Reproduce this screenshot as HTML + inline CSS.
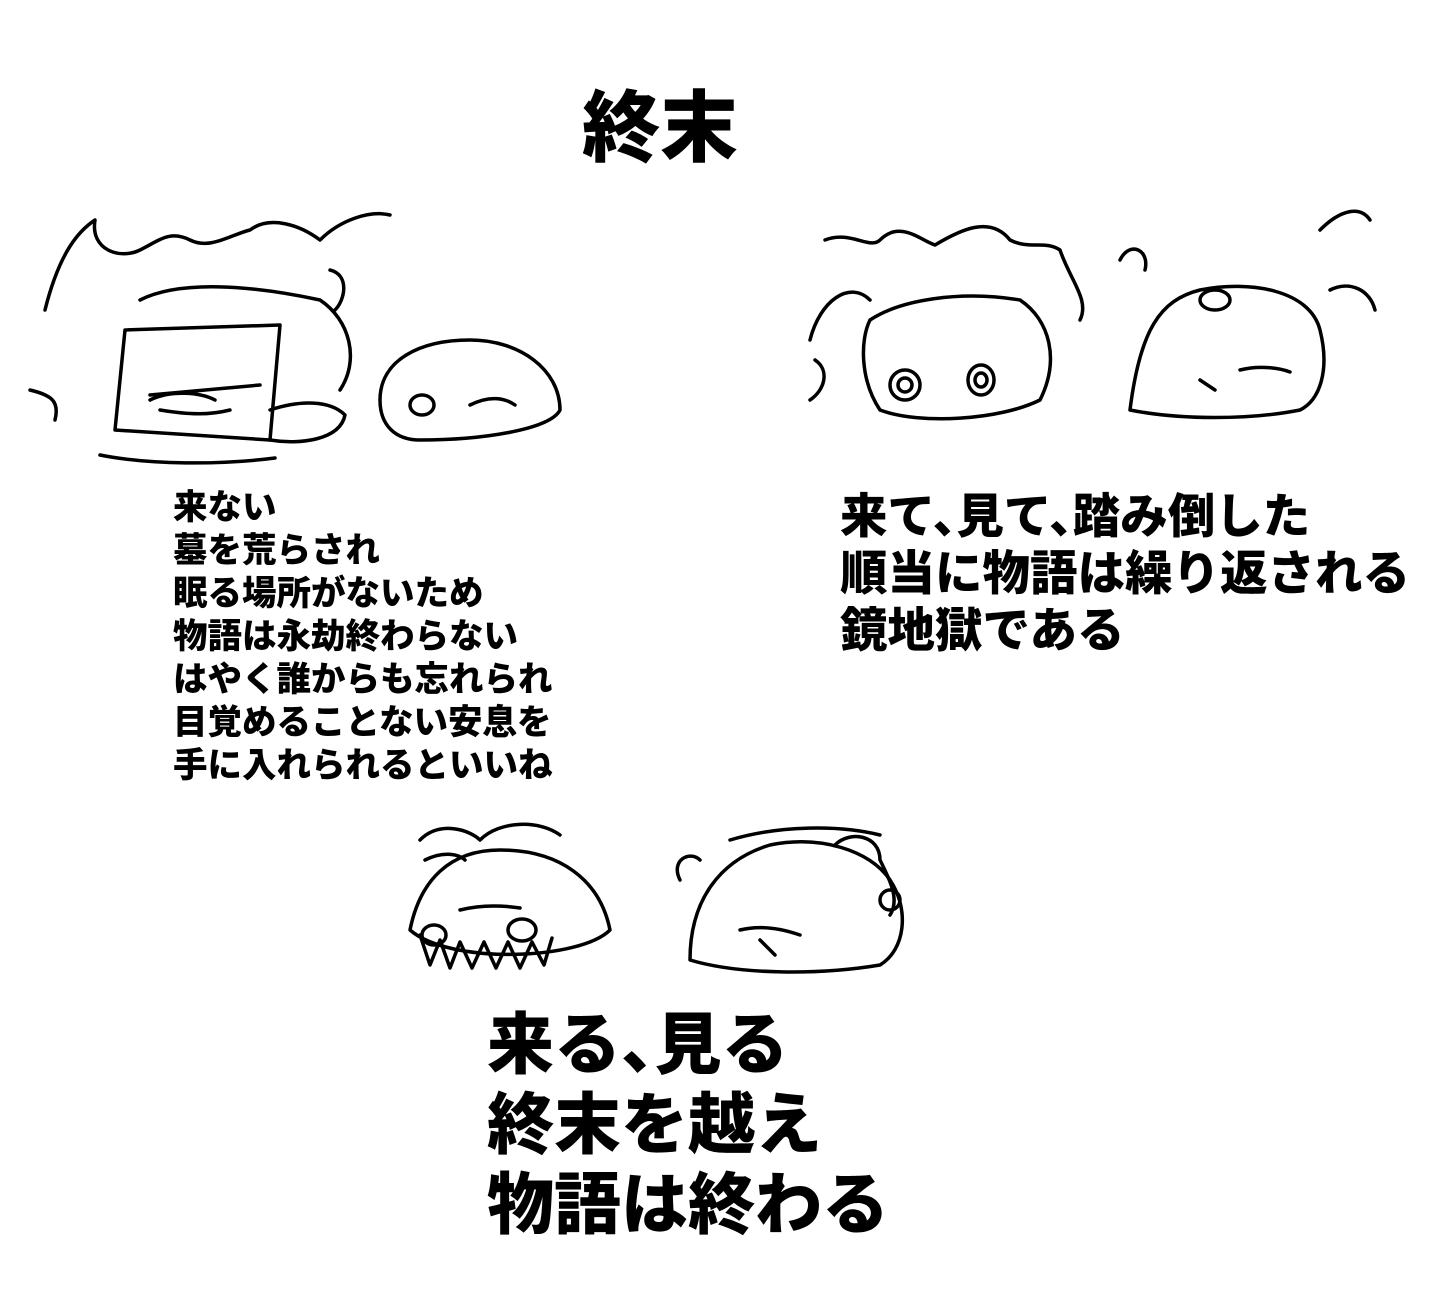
<!DOCTYPE html>
<html><head><meta charset="utf-8"><style>
html,body{margin:0;padding:0;background:#fff;}
body{width:1442px;height:1312px;position:relative;overflow:hidden;font-family:"Liberation Sans","Noto Sans CJK JP",sans-serif;font-weight:900;color:#000;}
.t{position:absolute;white-space:nowrap;line-height:1;}
.c{margin-right:-0.5em;}
svg{position:absolute;left:0;top:0;}
</style></head><body>
<svg width="1442" height="1312" fill="none" stroke="#000" stroke-width="3.5" stroke-linecap="round" stroke-linejoin="round">
<path d="M45 310 C60 250 80 230 95 220 C90 250 120 260 140 250 C160 240 170 230 190 240 C210 250 230 235 250 230 C270 215 300 225 320 240 C340 220 370 210 390 215"/>
<path d="M125 330 L280 325 L270 440 L115 430 Z"/>
<path d="M100 455 C150 465 220 465 275 458"/>
<path d="M140 300 C180 280 250 285 320 300 C350 320 360 360 340 390"/>
<path d="M150 400 C170 390 200 392 215 400 M160 410 C190 415 210 415 230 410 M150 395 L260 385"/>
<path d="M270 410 C300 400 330 400 345 415 C340 440 300 445 270 440"/>
<path d="M380 400 C380 360 420 340 470 340 C520 340 560 370 560 410 C550 430 480 440 420 440 C395 440 380 425 380 400 Z"/>
<path d="M410 405 a12 10 0 1 0 24 0 a12 10 0 1 0 -24 0 M470 405 C490 395 505 398 515 405"/>
<path d="M30 390 C50 395 60 400 55 420 M330 270 C350 275 345 300 335 310"/>
<path d="M825 240 C850 230 870 250 880 240 C900 220 920 240 935 245 C960 230 990 215 1010 240 C1030 250 1045 240 1060 250 C1070 280 1090 300 1080 320"/>
<path d="M810 340 C820 300 850 280 870 300 M815 360 C830 370 825 390 810 400"/>
<path d="M870 320 C900 300 960 290 1020 300 C1050 320 1060 360 1040 400 C1000 420 920 425 880 410 C860 380 860 340 870 320"/>
<path d="M890 385 a15 15 0 1 0 30 0 a15 15 0 1 0 -30 0 M898 385 a7 7 0 1 0 14 0 a7 7 0 1 0 -14 0 M968 380 a13 15 0 1 0 26 0 a13 15 0 1 0 -26 0 M975 380 a6 7 0 1 0 12 0 a6 7 0 1 0 -12 0"/>
<path d="M1130 410 C1140 330 1160 300 1200 290 C1250 280 1310 290 1320 330 C1330 370 1320 400 1300 410 C1250 420 1180 420 1130 410 Z"/>
<path d="M1120 260 C1130 240 1150 250 1145 270 M1320 230 C1340 210 1360 205 1370 220 M1330 290 C1350 280 1370 290 1375 310 M1200 300 a15 10 0 1 0 30 0 a15 10 0 1 0 -30 0 M1240 370 C1260 365 1280 368 1290 372 M1200 380 L1215 390"/>
<path d="M420 840 C440 820 470 830 480 840 C500 820 540 820 560 835 M425 860 C445 850 460 855 465 860"/>
<path d="M410 930 C420 880 450 850 500 850 C560 850 600 880 610 930 C580 960 450 965 410 930 Z"/>
<path d="M420 935 L430 965 L440 940 L450 968 L460 942 L472 968 L484 942 L496 968 L508 942 L520 968 L532 942 L544 965 L552 938"/>
<path d="M422 935 a12 10 0 1 0 24 0 a12 10 0 1 0 -24 0 M508 930 a14 11 0 1 0 28 0 a14 11 0 1 0 -28 0 M460 910 C480 905 500 905 520 908"/>
<path d="M690 960 C690 900 720 860 770 845 C820 835 870 850 890 880 C910 910 905 950 880 965 C820 975 740 975 690 960 Z"/>
<path d="M730 840 C780 825 840 825 880 835 M835 845 C850 830 880 835 880 860 C890 880 900 900 890 915 M880 900 a10 10 0 1 0 20 0 a10 10 0 1 0 -20 0 M680 880 C670 860 690 850 700 860 M760 940 L775 955 M740 930 C760 925 780 928 800 935"/>
</svg>

<div class="t" style="left:582px;top:89px;font-size:78px;">終末</div>

<div class="t" style="left:173px;top:491px;font-size:34.5px;">来ない</div>
<div class="t" style="left:173px;top:534px;font-size:34.5px;">墓を荒らされ</div>
<div class="t" style="left:173px;top:577px;font-size:34.5px;">眠る場所がないため</div>
<div class="t" style="left:173px;top:620px;font-size:34.5px;">物語は永劫終わらない</div>
<div class="t" style="left:173px;top:663px;font-size:34.5px;">はやく誰からも忘れられ</div>
<div class="t" style="left:173px;top:706px;font-size:34.5px;">目覚めることない安息を</div>
<div class="t" style="left:173px;top:749px;font-size:34.5px;">手に入れられるといいね</div>

<div class="t" style="left:840px;top:494px;font-size:47.5px;">来て<span class="c">、</span>見て<span class="c">、</span>踏み倒した</div>
<div class="t" style="left:840px;top:551px;font-size:47.5px;">順当に物語は繰り返される</div>
<div class="t" style="left:840px;top:608px;font-size:47.5px;">鏡地獄である</div>

<div class="t" style="left:487px;top:1012px;font-size:67px;">来る<span class="c">、</span>見る</div>
<div class="t" style="left:487px;top:1092px;font-size:67px;">終末を越え</div>
<div class="t" style="left:487px;top:1172px;font-size:67px;">物語は終わる</div>
</body></html>
